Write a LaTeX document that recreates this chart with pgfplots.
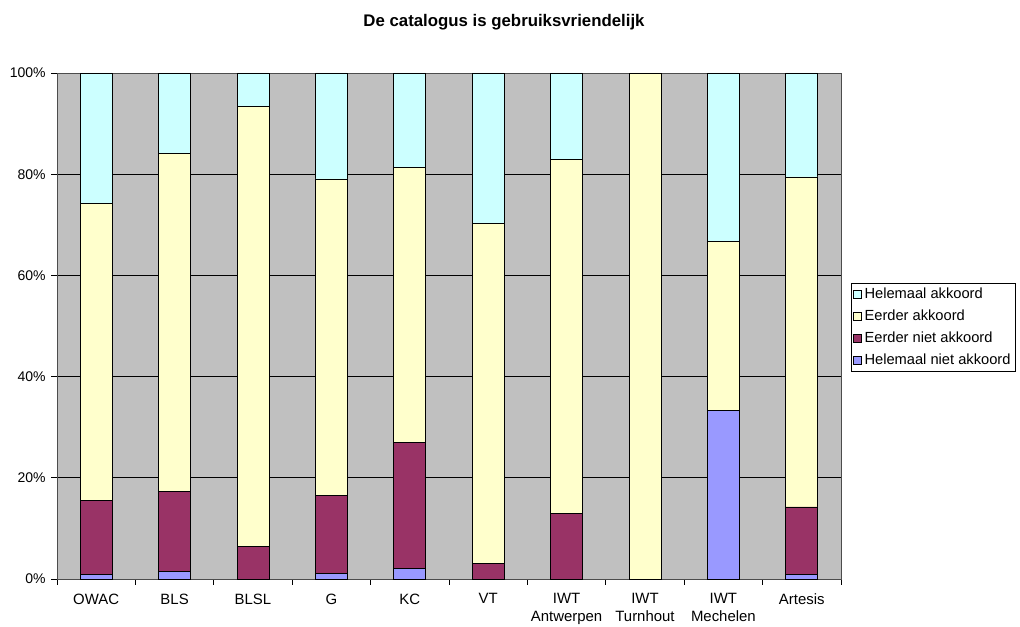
\documentclass[border=0pt]{standalone}
\usepackage{fontspec}
\setmainfont{Liberation Sans}
\usepackage{pgfplots}
\pgfplotsset{compat=1.18}
\definecolor{cHA}{HTML}{CCFFFF}
\definecolor{cEA}{HTML}{FFFFCC}
\definecolor{cEN}{HTML}{993366}
\definecolor{cHN}{HTML}{9999FF}
\definecolor{plotbg}{HTML}{C0C0C0}

% x = category index, y = percentage
\pgfplotstableread{
x  hn     en     ea     ha
0  0.85   14.6   58.7   25.85
1  1.55   15.75  66.8   15.9
2  0      6.35   87.1   6.55
3  1.06   15.4   62.6   20.94
4  2.05   25.0   54.2   18.75
5  0      3.1    67.2   29.7
6  0      12.9   70.0   17.1
7  0      0      100    0
8  33.33  0      33.33  33.34
9  0.85   13.4   65.2   20.55
}\datatable

% 1 px of the reference = 0.75pt
\begin{document}
\begin{tikzpicture}
\useasboundingbox (0pt,0pt) rectangle (765pt,469.5pt);
\node[font=\bfseries\fontsize{12.6}{14}\selectfont] at (378pt,453pt) {De catalogus is gebruiksvriendelijk};
\begin{axis}[
    at={(42.75pt,35.25pt)}, anchor=south west,
    scale only axis,
    width=588pt, height=379.5pt,
    ybar stacked,
    bar width=24pt,
    xmin=-0.5, xmax=9.5,
    ymin=0, ymax=100,
    axis background/.style={fill=plotbg},
    axis line style={draw=gray!60!black},
    xtick={0,...,9},
    xticklabels={OWAC,BLS,BLSL,G,KC,VT,IWT\\Antwerpen,IWT\\Turnhout,IWT\\Mechelen,Artesis},
    xticklabel style={align=center, yshift=-7.5pt, font=\fontsize{11.2}{13.5}\selectfont},
    major x tick style={draw=none},
    minor xtick={-0.5,0.5,...,9.5},
    ytick={0,20,...,100},
    yticklabels={0\%,20\%,40\%,60\%,80\%,100\%},
    yticklabel style={xshift=-5pt, font=\fontsize{10.5}{12}\selectfont},
    tick pos=left,
    tick align=inside,
    major tick length=-4.5pt,
    minor tick length=-4.5pt,
    tick style={black, line width=0.6pt},
    ymajorgrids,
    grid style={black, line width=0.5pt},
    every axis plot/.append style={draw=black, line width=0.6pt},
    reverse legend,
    legend style={at={(1.0127,0.585)}, anchor=north west, draw=black,
        font=\fontsize{11}{12}\selectfont, row sep=3pt, inner sep=1.5pt,
        cells={anchor=west}},
    legend image code/.code={\draw[#1, line width=0.5pt] (0pt,-3pt) rectangle (6pt,3pt);},
]
\addplot[fill=cHN] table[x=x,y=hn] {\datatable};
\addlegendentry{Helemaal niet akkoord}
\addplot[fill=cEN] table[x=x,y=en] {\datatable};
\addlegendentry{Eerder niet akkoord}
\addplot[fill=cEA] table[x=x,y=ea] {\datatable};
\addlegendentry{Eerder akkoord}
\addplot[fill=cHA] table[x=x,y=ha] {\datatable};
\addlegendentry{Helemaal akkoord}
\end{axis}
\end{tikzpicture}
\end{document}
